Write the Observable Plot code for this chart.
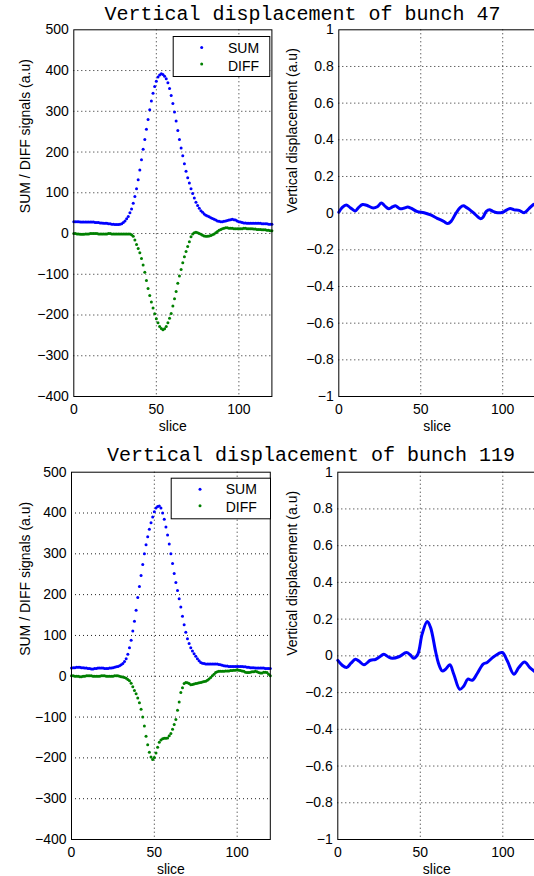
<!DOCTYPE html>
<html>
<head>
<meta charset="utf-8">
<script src="https://cdn.jsdelivr.net/npm/d3@7"></script>
<script src="https://cdn.jsdelivr.net/npm/@observablehq/plot@0.6"></script>
<style>
  html, body { margin: 0; padding: 0; background: #fff; }
  #wrap { position: relative; width: 534px; height: 876px; overflow: hidden; background: #fff; }
  .panel { position: absolute; }
  .panel svg { max-width: none !important; }
  #overlay { position: absolute; left: 0; top: 0; pointer-events: none; }
</style>
</head>
<body>
<div id="wrap"></div>
<script>
// ---------------- data ----------------
const slices = d3.range(0, 121);

const titles = ["Vertical displacement of bunch 47", "Vertical displacement of bunch 119"];
const seriesNames = ["SUM", "DIFF"];
const xLabel = "slice";
const yLabelLeft = "SUM / DIFF signals (a.u)";
const yLabelRight = "Vertical displacement (a.u)";

const xTicks = [0, 50, 100];
const xGrid = [50, 100];
const yTicksLeft = [-400, -300, -200, -100, 0, 100, 200, 300, 400, 500];
const yGridLeft = [-300, -200, -100, 0, 100, 200, 300, 400];
const yTicksRight = [-1, -0.8, -0.6, -0.4, -0.2, 0, 0.2, 0.4, 0.6, 0.8, 1];
const yGridRight = [-0.8, -0.6, -0.4, -0.2, 0, 0.2, 0.4, 0.6, 0.8];

const sum47 = [
  29,29,29,29,28,28,28,28,28,28,
  28,28,28,27,27,27,26,26,25,25,
  25,24,24,23,23,22,22,22,23,24,
  27,31,36,42,51,60,74,91,110,132,
  156,181,207,231,256,280,304,325,344,361,
  374,384,389,392,390,386,380,370,356,339,
  319,298,276,253,231,210,191,171,153,137,
  124,110,98,87,77,69,62,56,52,48,
  45,43,41,39,37,35,33,31,30,29,
  29,30,31,32,33,34,35,34,33,31,
  29,28,27,26,26,25,25,25,25,25,
  25,25,25,25,24,24,24,24,23,23,23
];
const diff47 = [
  0,0,-1,-1,-2,-2,-2,-1,-1,-1,
  0,0,0,0,0,-1,-1,-1,-1,-1,
  -1,0,0,-1,-1,-1,-1,-1,-1,-1,
  -1,-1,-1,-1,-1,-3,-7,-16,-27,-37,
  -47,-61,-77,-95,-115,-135,-152,-168,-183,-197,
  -209,-219,-228,-233,-236,-234,-228,-219,-208,-196,
  -178,-160,-142,-122,-104,-88,-72,-57,-44,-32,
  -20,-8,-1,2,3,2,0,-2,-4,-6,
  -7,-7,-6,-5,-3,-1,2,5,8,10,
  12,13,14,14,13,13,13,12,12,12,
  12,12,12,13,13,12,12,12,12,11,
  11,10,10,10,9,9,9,8,8,7,7
];
const sum119 = [
  20,21,21,22,22,22,21,21,20,20,
  19,19,18,18,19,19,20,20,20,20,
  19,19,19,20,20,21,22,23,24,26,
  28,31,36,43,54,70,88,111,135,162,
  193,220,247,274,300,322,342,360,376,390,
  403,412,416,417,412,400,385,366,346,324,
  300,276,252,230,210,190,170,147,126,108,
  92,80,70,62,55,49,43,38,34,32,
  31,30,30,30,30,30,30,30,30,29,
  28,27,26,25,25,24,24,24,24,24,
  24,24,24,24,23,23,22,22,21,21,
  21,20,20,20,20,20,20,19,19,19,19
];
const diff119 = [
  1,1,0,0,0,-1,-1,0,0,1,
  1,1,1,0,0,0,0,0,1,1,
  1,0,0,0,0,0,1,1,1,0,
  -1,-2,-3,-5,-8,-11,-17,-26,-35,-43,
  -53,-65,-81,-100,-122,-147,-168,-186,-198,-204,
  -199,-188,-174,-162,-156,-153,-152,-152,-151,-146,
  -140,-130,-118,-106,-83,-63,-40,-28,-18,-15,
  -16,-18,-21,-20,-19,-18,-17,-16,-15,-14,
  -13,-12,-10,-7,-3,1,5,9,11,12,
  12,12,12,13,13,13,14,14,15,15,
  16,15,14,13,12,10,9,9,10,11,
  11,12,11,9,8,8,10,10,9,5,1
];

const disp47Slices = [0,2,4.5,7,10,12,14.5,17,21,23.5,26,28,30.5,33,34.5,37.5,40,42,44,48,52,56,60,64,66.5,68.5,71.5,74,76,78,80,83,86.5,88,90,92,94,97,100,102,104.5,107,110,113,116,118.5,120];
const disp47 = [0.005,0.03,0.045,0.03,0.012,0.03,0.047,0.043,0.028,0.035,0.055,0.04,0.024,0.035,0.04,0.024,0.028,0.033,0.027,0.008,0.002,-0.01,-0.028,-0.045,-0.057,-0.045,0.0,0.03,0.04,0.03,0.018,-0.005,-0.03,-0.022,0.01,0.018,0.01,0.002,0.005,0.015,0.025,0.018,0.015,0.002,0.025,0.045,0.05];

const disp119Slices = [0,2.5,5.3,8,10.7,13,15.8,19.8,22.8,25,27.9,30.5,33,37,41.6,44,46,48.5,51.1,54.2,56.2,59.2,61,63.3,65.3,67.9,70.3,73.9,76.4,78.8,81.5,84.5,88.1,90.5,94.5,99.6,102.7,106.7,109.7,113.2,116.4,120];
const disp119 = [-0.025,-0.05,-0.064,-0.04,-0.018,-0.03,-0.049,-0.024,-0.02,-0.008,0.009,-0.005,-0.013,-0.005,0.018,0.005,-0.013,0.009,0.118,0.187,0.155,0.027,-0.04,-0.082,-0.073,-0.049,-0.1,-0.182,-0.164,-0.127,-0.133,-0.096,-0.045,-0.036,-0.005,0.018,-0.027,-0.1,-0.064,-0.033,-0.064,-0.09];

// ---------------- drawing ----------------
const SANS = "'Liberation Sans', Arial, Helvetica, sans-serif";
const MONO = "'Liberation Mono', 'Courier New', Courier, monospace";
const fmt = d3.format("");
const gridStyle = {stroke: "#222", strokeWidth: 1, strokeDasharray: "1,3"};
const wrap = document.getElementById("wrap");

function place(svg, left, top) {
  const div = document.createElement("div");
  div.className = "panel";
  div.style.left = left + "px";
  div.style.top = top + "px";
  div.appendChild(svg);
  wrap.appendChild(div);
}

function basePlot({width, height, m, yDomain, yTicks, yGrid, labelDx, yLabel, marks}) {
  return Plot.plot({
    width, height,
    marginTop: m[0], marginRight: m[1], marginBottom: m[2], marginLeft: m[3],
    style: {fontFamily: SANS, fontSize: "14px", color: "#000", background: "transparent", overflow: "visible"},
    x: {domain: [0, 120], ticks: xTicks, tickFormat: fmt, tickSize: 0, tickPadding: 8, label: null},
    y: {domain: yDomain, ticks: yTicks, tickFormat: fmt, tickSize: 0, tickPadding: 5, label: null},
    marks: [
      Plot.ruleX(xGrid, gridStyle),
      Plot.ruleY(yGrid, gridStyle),
      ...marks,
      Plot.frame({stroke: "#000", strokeWidth: 1}),
      Plot.text([yLabel], {frameAnchor: "left", dx: labelDx, rotate: -90, lineAnchor: "middle", text: d => d, fontSize: 14, fill: "#000"}),
      Plot.text([xLabel], {frameAnchor: "bottom", dy: 34, lineAnchor: "bottom", text: d => d, fontSize: 14, fill: "#000"})
    ]
  });
}

function signalPlot(sum, diff, height, m, labelDx) {
  const sumData = slices.map((s, i) => ({slice: s, v: sum[i]}));
  const diffData = slices.map((s, i) => ({slice: s, v: diff[i]}));
  return basePlot({
    width: 280, height, m, yDomain: [-400, 500], yTicks: yTicksLeft, yGrid: yGridLeft,
    labelDx, yLabel: yLabelLeft,
    marks: [
      Plot.dot(sumData, {x: "slice", y: "v", r: 1.5, fill: "#0000ff"}),
      Plot.dot(diffData, {x: "slice", y: "v", r: 1.5, fill: "#008000"})
    ]
  });
}

function dispPlot(xs, vs, height, m, labelDx) {
  const data = xs.map((s, i) => ({slice: s, v: vs[i]}));
  return basePlot({
    width: 280, height, m, yDomain: [-1, 1], yTicks: yTicksRight, yGrid: yGridRight,
    labelDx, yLabel: yLabelRight,
    marks: [
      Plot.line(data, {x: "slice", y: "v", stroke: "#0000ff", strokeWidth: 3, curve: "catmull-rom"})
    ]
  });
}

// top row
place(signalPlot(sum47, diff47, 440, [29.3, 8.6, 44, 73.3], -48.3), 0, 0);
place(dispPlot(disp47Slices, disp47, 440, [29.3, 15, 44, 68.3], -46.6), 270, 0);
// bottom row
place(signalPlot(sum119, diff119, 436, [31.7, 10.2, 37, 71], -46), 0, 440);
place(dispPlot(disp119Slices, disp119, 436, [31.7, 14.7, 37, 67.3], -45.6), 270, 440);

// overlay: titles and legends
const ns = "http://www.w3.org/2000/svg";
const ov = document.createElementNS(ns, "svg");
ov.setAttribute("id", "overlay");
ov.setAttribute("width", 534);
ov.setAttribute("height", 876);
wrap.appendChild(ov);
function el(tag, attrs, text) {
  const e = document.createElementNS(ns, tag);
  for (const k in attrs) e.setAttribute(k, attrs[k]);
  if (text != null) e.textContent = text;
  ov.appendChild(e);
  return e;
}
const titleSpecs = [{x: 104.5, y: 20}, {x: 107, y: 461}];
titles.forEach((t, i) => {
  el("text", {x: titleSpecs[i].x, y: titleSpecs[i].y, "font-family": MONO, "font-size": 20, fill: "#000"}, t);
});
const legendSpecs = [
  {x: 172.7, y: 36, w: 96.6, h: 40, dx: 201.7, tx: 228, dy: [47.5, 64], ty: [53.3, 70.5]},
  {x: 170.7, y: 477.7, w: 99.3, h: 40.6, dx: 200, tx: 225.7, dy: [489.3, 505.7], ty: [494.3, 511.7]}
];
const seriesColors = ["#0000ff", "#008000"];
legendSpecs.forEach(L => {
  el("rect", {x: L.x + 0.5, y: L.y + 0.5, width: L.w, height: L.h, fill: "#fff", stroke: "#000", "stroke-width": 1});
  seriesNames.forEach((name, j) => {
    el("circle", {cx: L.dx, cy: L.dy[j], r: 1.5, fill: seriesColors[j]});
    el("text", {x: L.tx, y: L.ty[j], "font-family": SANS, "font-size": 14, fill: "#000"}, name);
  });
});
</script>
</body>
</html>
